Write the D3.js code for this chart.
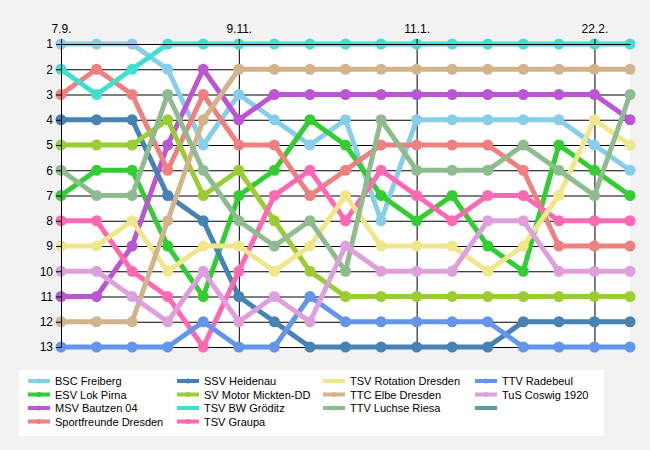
<!DOCTYPE html>
<html>
<head>
<meta charset="utf-8">
<script src="https://cdn.jsdelivr.net/npm/d3@7"></script>
<style>
  body { margin: 0; background: #f2f2f2; }
  svg { display: block; font-family: "Liberation Sans", Arial, sans-serif; }
</style>
</head>
<body>
<div id="chart"></div>
<script>
// match days (17 rounds), only some get a label on top
var rounds = d3.range(0, 17);
var tickRounds = [0, 5, 10, 15];
var tickLabels = ["7.9.", "9.11.", "11.1.", "22.2."];
var ranks = d3.range(1, 14);

var teams = [
  "BSC Freiberg", "ESV Lok Pirna", "MSV Bautzen 04", "Sportfreunde Dresden",
  "SSV Heidenau", "SV Motor Mickten-DD", "TSV BW Gröditz", "TSV Graupa",
  "TSV Rotation Dresden", "TTC Elbe Dresden", "TTV Luchse Riesa", "TTV Radebeul",
  "TuS Coswig 1920", ""
];

var colors = [
  "#87ceeb", "#32cd32", "#ba55d3", "#f08080",
  "#4682b4", "#9acd32", "#40e0d0", "#ff69b4",
  "#f0e68c", "#d2b48c", "#8fbc8f", "#6495ed",
  "#dda0dd", "#5f9ea0"
];

// table position per round
var bscFreiberg   = [1, 1, 1, 2, 5, 3, 4, 5, 4, 8, 4, 4, 4, 4, 4, 5, 6];
var esvLokPirna   = [7, 6, 6, 9, 11, 7, 6, 4, 5, 7, 8, 7, 9, 10, 5, 6, 7];
var msvBautzen    = [11, 11, 9, 5, 2, 4, 3, 3, 3, 3, 3, 3, 3, 3, 3, 3, 4];
var sportfreunde  = [3, 2, 3, 6, 3, 5, 5, 7, 6, 5, 5, 5, 5, 6, 9, 9, 9];
var ssvHeidenau   = [4, 4, 4, 7, 8, 11, 12, 13, 13, 13, 13, 13, 13, 12, 12, 12, 12];
var svMickten     = [5, 5, 5, 4, 7, 6, 8, 10, 11, 11, 11, 11, 11, 11, 11, 11, 11];
var tsvGroeditz   = [2, 3, 2, 1, 1, 1, 1, 1, 1, 1, 1, 1, 1, 1, 1, 1, 1];
var tsvGraupa     = [8, 8, 10, 11, 13, 10, 7, 6, 8, 6, 7, 8, 7, 7, 8, 8, 8];
var tsvRotation   = [9, 9, 8, 10, 9, 9, 10, 9, 7, 9, 9, 9, 10, 9, 7, 4, 5];
var ttcElbe       = [12, 12, 12, 8, 4, 2, 2, 2, 2, 2, 2, 2, 2, 2, 2, 2, 2];
var ttvRiesa      = [6, 7, 7, 3, 6, 8, 9, 8, 10, 4, 6, 6, 6, 5, 6, 7, 3];
var ttvRadebeul   = [13, 13, 13, 13, 12, 13, 13, 11, 12, 12, 12, 12, 12, 13, 13, 13, 13];
var tusCoswig     = [10, 10, 11, 12, 10, 12, 11, 12, 9, 10, 10, 10, 8, 8, 10, 10, 10];
var unnamed       = [];

var positions = [bscFreiberg, esvLokPirna, msvBautzen, sportfreunde, ssvHeidenau,
  svMickten, tsvGroeditz, tsvGraupa, tsvRotation, ttcElbe, ttvRiesa, ttvRadebeul,
  tusCoswig, unnamed];

var series = teams.map(function(name, i) {
  return { name: name, color: colors[i], values: positions[i] };
});

// legend is filled row by row, 4 columns
var legendOrder = [0, 4, 8, 11, 1, 5, 9, 12, 2, 6, 10, 13, 3, 7];

var svgWidth = 650,
  svgHeight = 450,
  plotLeft = 61,
  plotRight = 630,
  plotTop = 44,
  plotBottom = 347,
  lineWidth = 5,
  markerRadius = 5.5,
  legendX = 19,
  legendY = 370,
  legendW = 585,
  legendH = 66,
  legendColX = [28, 177, 323, 475],
  legendRowY = [381, 394.5, 408, 421.5],
  legendSampleW = 22;

var x = d3.scaleLinear().domain([0, 16]).range([plotLeft, plotRight]);
var y = d3.scaleLinear().domain([1, 13]).range([plotTop, plotBottom]);

var svg = d3.select("#chart")
  .append("svg")
  .attr("width", svgWidth)
  .attr("height", svgHeight);

svg.append("rect")
  .attr("width", svgWidth)
  .attr("height", svgHeight)
  .attr("fill", "#f2f2f2");

svg.append("rect")
  .attr("x", plotLeft)
  .attr("y", plotTop)
  .attr("width", plotRight - plotLeft)
  .attr("height", plotBottom - plotTop)
  .attr("fill", "white");

// grid lines sit under the series
var yGrid = svg.append("g")
  .attr("transform", "translate(" + plotLeft + ",0)")
  .call(d3.axisLeft(y).tickValues(ranks).tickSize(-(plotRight - plotLeft)).tickFormat(""));
yGrid.select(".domain").remove();
yGrid.selectAll("line").attr("stroke", "black");

var xGrid = svg.append("g")
  .attr("transform", "translate(0," + plotTop + ")")
  .call(d3.axisTop(x).tickValues(tickRounds).tickSize(-(plotBottom - plotTop)).tickFormat(""));
xGrid.select(".domain").remove();
xGrid.selectAll("line").attr("stroke", "black");

var line = d3.line()
  .x(function(d, i) { return x(i); })
  .y(function(d) { return y(d); });

var teamGroups = svg.selectAll("g.team")
  .data(series)
  .enter()
  .append("g")
  .attr("class", "team");

teamGroups.append("path")
  .attr("d", function(d) { return line(d.values); })
  .attr("fill", "none")
  .attr("stroke", function(d) { return d.color; })
  .attr("stroke-width", lineWidth)
  .attr("stroke-linejoin", "round");

teamGroups.selectAll("circle")
  .data(function(d) {
    return d.values.map(function(v, i) { return { v: v, i: i, color: d.color }; });
  })
  .enter()
  .append("circle")
  .attr("cx", function(d) { return x(d.i); })
  .attr("cy", function(d) { return y(d.v); })
  .attr("r", markerRadius)
  .attr("fill", function(d) { return d.color; });

// axes go on top of the lines
var yAxis = svg.append("g")
  .attr("transform", "translate(" + plotLeft + ",0)")
  .call(d3.axisLeft(y).tickValues(ranks).tickSize(5).tickPadding(3).tickSizeOuter(0));
yAxis.selectAll("line, path").attr("stroke", "black");
yAxis.selectAll("text")
  .attr("font-size", "12px")
  .attr("font-family", "Liberation Sans, Arial, sans-serif")
  .attr("fill", "black");

var xAxis = svg.append("g")
  .attr("transform", "translate(0," + plotTop + ")")
  .call(d3.axisTop(x).tickValues(tickRounds)
    .tickFormat(function(d, i) { return tickLabels[i]; })
    .tickSize(5).tickPadding(6).tickSizeOuter(0));
xAxis.selectAll("line, path").attr("stroke", "black");
xAxis.selectAll("text")
  .attr("font-size", "12px")
  .attr("font-family", "Liberation Sans, Arial, sans-serif")
  .attr("fill", "black");

// legend
svg.append("rect")
  .attr("x", legendX)
  .attr("y", legendY)
  .attr("width", legendW)
  .attr("height", legendH)
  .attr("fill", "white");

var legendItems = svg.selectAll("g.legend")
  .data(legendOrder)
  .enter()
  .append("g")
  .attr("class", "legend")
  .attr("transform", function(d, k) {
    return "translate(" + legendColX[k % 4] + "," + legendRowY[Math.floor(k / 4)] + ")";
  });

legendItems.append("line")
  .attr("x1", 0)
  .attr("x2", legendSampleW)
  .attr("stroke", function(d) { return series[d].color; })
  .attr("stroke-width", 4);

legendItems.filter(function(d) { return series[d].values.length > 0; })
  .append("circle")
  .attr("cx", legendSampleW / 2)
  .attr("r", 2.5)
  .attr("fill", function(d) { return series[d].color; });

legendItems.append("text")
  .text(function(d) { return series[d].name; })
  .attr("x", legendSampleW + 5)
  .attr("y", 4)
  .attr("font-size", "11px")
  .attr("fill", "black");
</script>
</body>
</html>
